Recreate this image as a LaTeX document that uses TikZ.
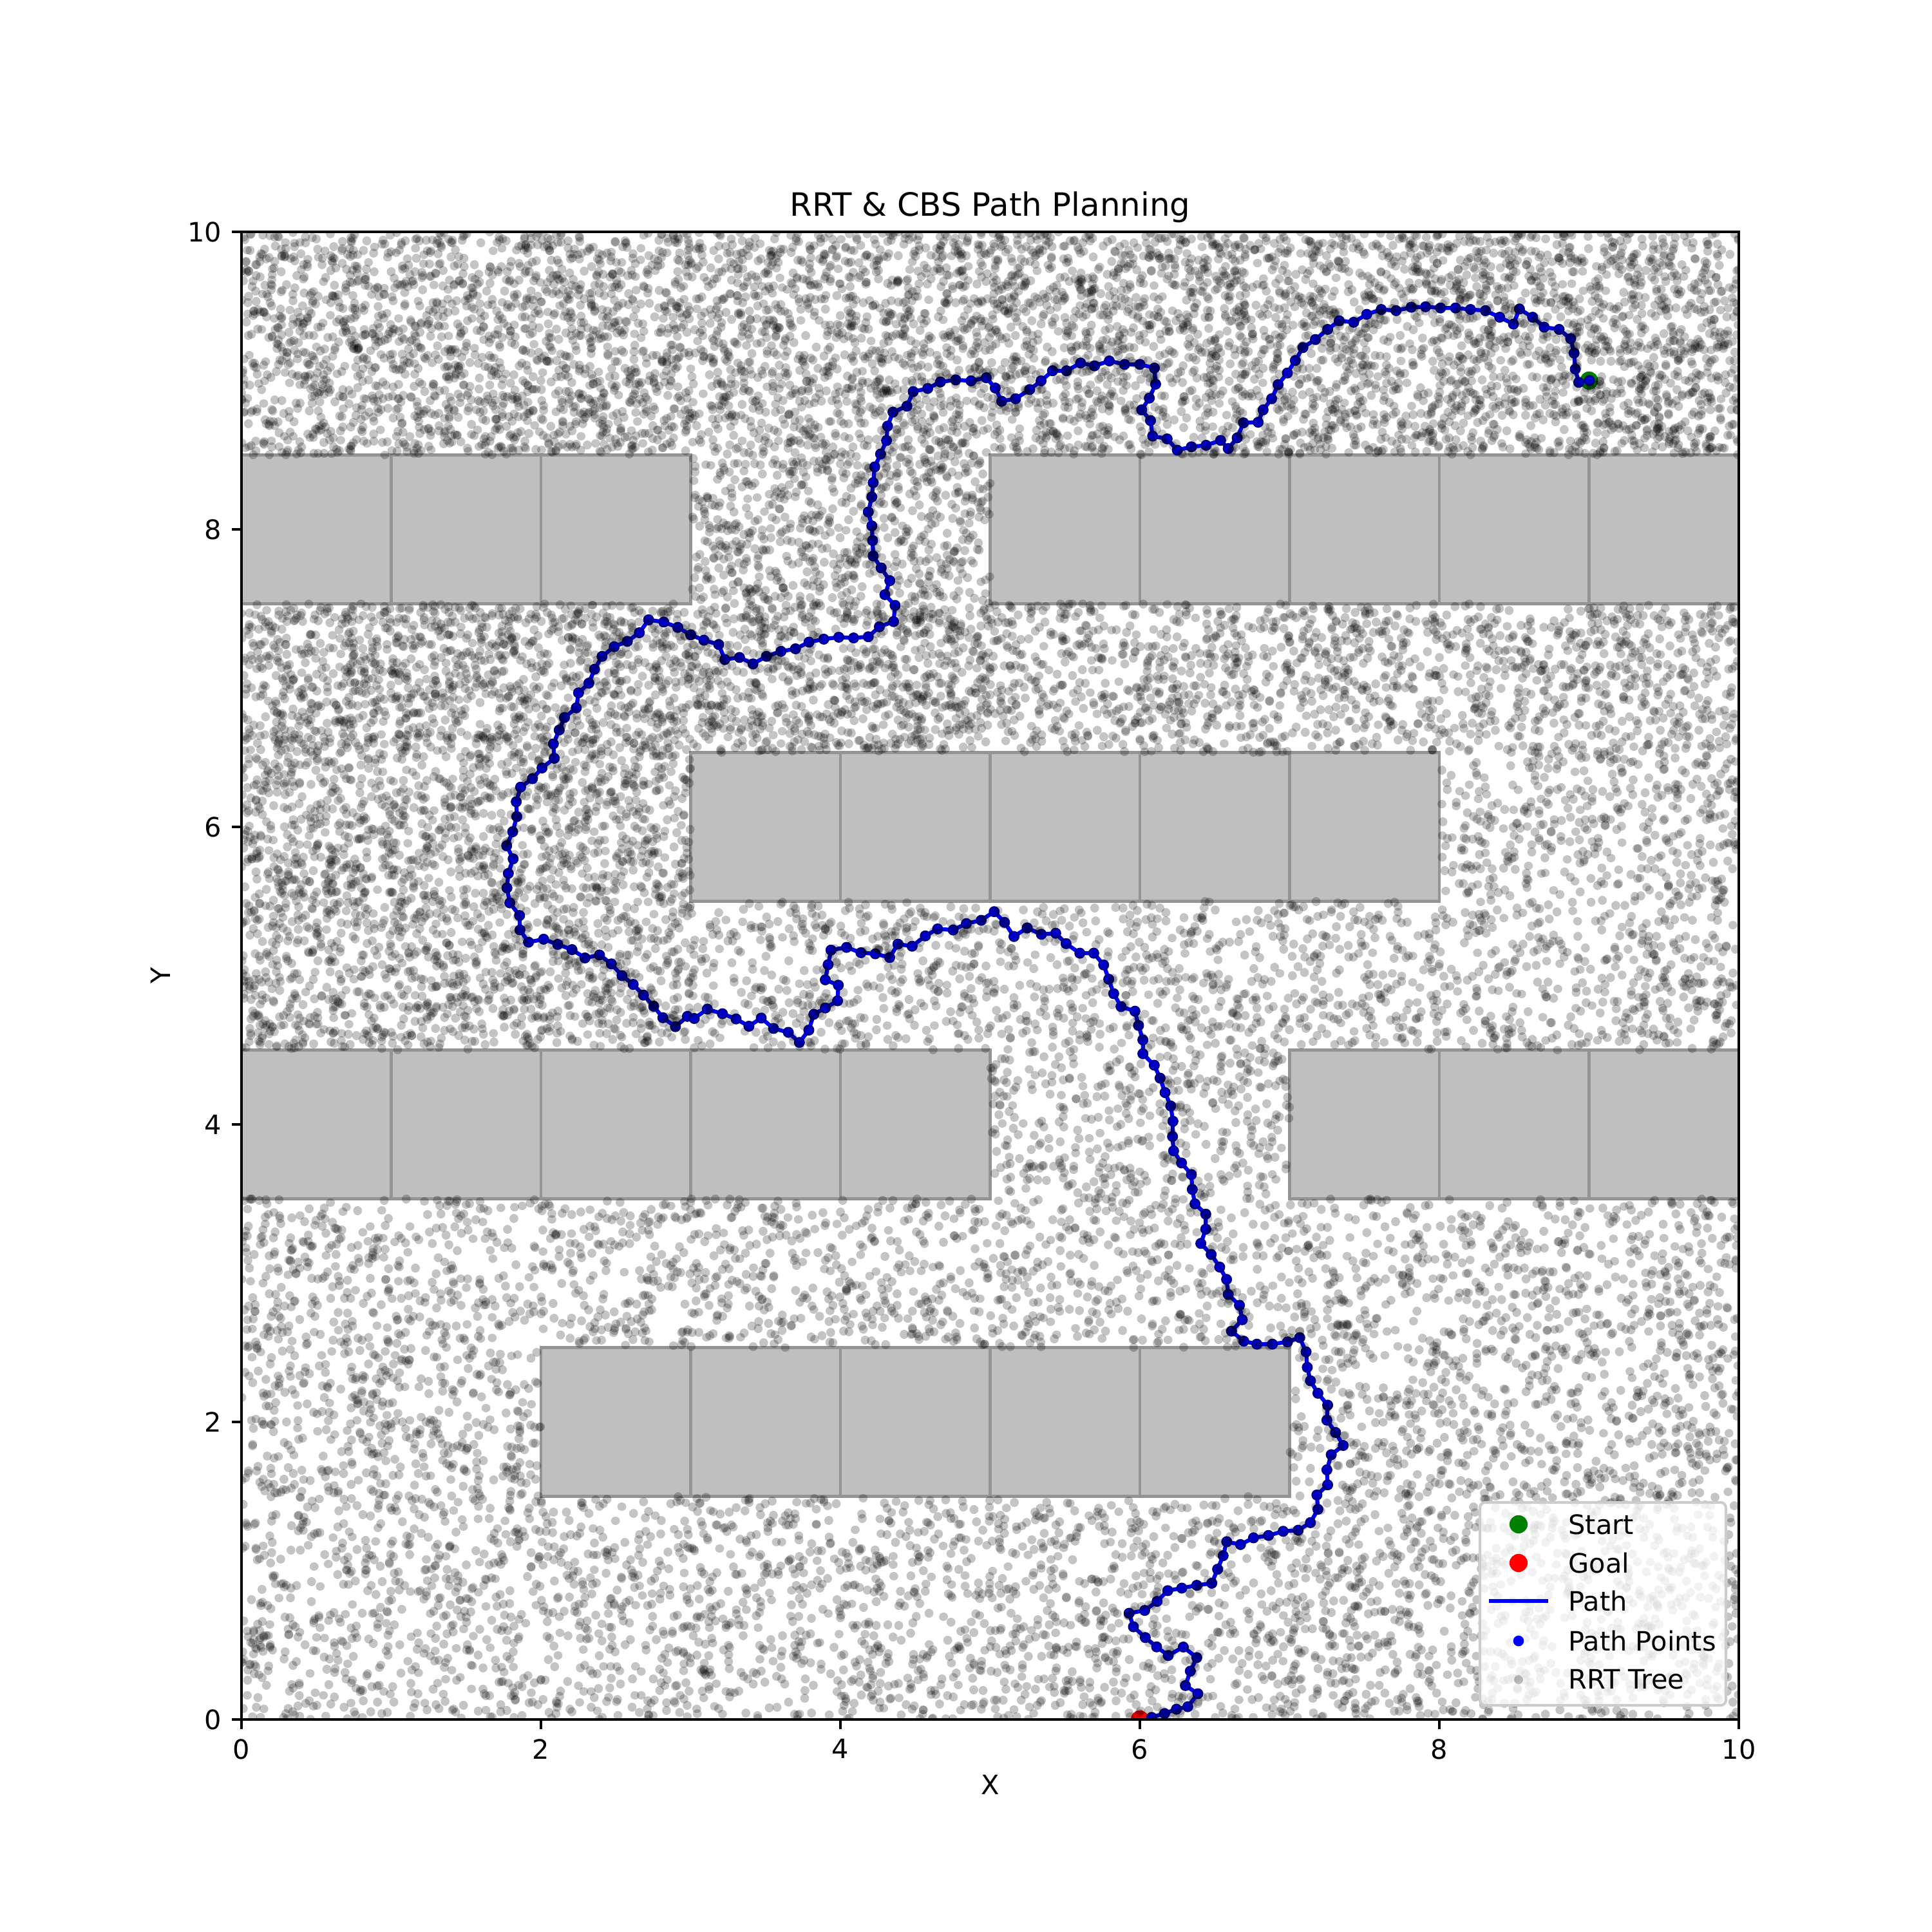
\documentclass[tikz,border=0pt]{standalone}
\usepackage{fontspec}
\setmainfont{DejaVu Sans}
\usetikzlibrary{positioning}
\definecolor{obstgray}{gray}{0.75}
\definecolor{obstedge}{gray}{0.58}
\definecolor{ptblue}{rgb}{0,0,0.78}
\definecolor{ptedge}{rgb}{0,0,0.5}
\definecolor{startgreen}{rgb}{0,0.5,0}
% random RRT samples: 1pt in \smpx/\smpy stands for one data unit
\newdimen\smpx \newdimen\smpy
\newif\ifblocked
\newcommand\checkblock{\blockedfalse
  \ifdim\smpy>7.5pt\relax\ifdim\smpy<8.5pt\relax
    \ifdim\smpx<3pt\relax\blockedtrue\fi \ifdim\smpx>5pt\relax\blockedtrue\fi\fi\fi
  \ifdim\smpy>5.5pt\relax\ifdim\smpy<6.5pt\relax
    \ifdim\smpx>3pt\relax\ifdim\smpx<8pt\relax\blockedtrue\fi\fi\fi\fi
  \ifdim\smpy>3.5pt\relax\ifdim\smpy<4.5pt\relax
    \ifdim\smpx<5pt\relax\blockedtrue\fi \ifdim\smpx>7pt\relax\blockedtrue\fi\fi\fi
  \ifdim\smpy>1.5pt\relax\ifdim\smpy<2.5pt\relax
    \ifdim\smpx>2pt\relax\ifdim\smpx<7pt\relax\blockedtrue\fi\fi\fi\fi}
\newcommand\treesamples[5]{% count (below 16000), x0, y0, width, height
  \foreach \i in {1,...,#1}{%
    \pgfmathparse{rnd}\smpx=\pgfmathresult pt\relax
    \pgfmathparse{rnd}\smpy=\pgfmathresult pt\relax
    \smpx=#4\smpx \advance\smpx by #2pt\relax
    \smpy=#5\smpy \advance\smpy by #3pt\relax
    \checkblock
    \ifblocked\else
      \pgfpathmoveto{\pgfqpoint{56.009\smpx}{55.648\smpy}}%
      \pgfpathlineto{\pgfqpoint{\dimexpr56.009\smpx+0.01pt\relax}{55.648\smpy}}%
      \pgfusepath{stroke}%
    \fi}}
\begin{document}
\begin{tikzpicture}[x=0.775in,y=0.77in,
  obst/.style={fill=obstgray,draw=obstedge,line width=1pt},
  treept/.style={draw=black,draw opacity=0.23,line width=3.3pt,line cap=round},
  pathline/.style={draw=blue,line width=1.5pt,line join=round},
  endpt/.style={circle,inner sep=0pt,minimum size=6.8pt},
  tick/.style={line width=0.8pt},
  ticklabel/.style={font=\fontsize{10}{12}\selectfont,inner sep=0pt},
  legendtext/.style={font=\fontsize{10}{12}\selectfont,inner sep=0pt}]
\useasboundingbox (-1.25in,-1.1in) rectangle (8.75in,8.9in);

% obstacles (unit cells)
\foreach \ox/\oy in {0/7.5,1/7.5,2/7.5,5/7.5,6/7.5,7/7.5,8/7.5,9/7.5,
                     3/5.5,4/5.5,5/5.5,6/5.5,7/5.5,
                     0/3.5,1/3.5,2/3.5,3/3.5,4/3.5,7/3.5,8/3.5,9/3.5,
                     2/1.5,3/1.5,4/1.5,5/1.5,6/1.5}
  \draw[obst] (\ox,\oy) rectangle ++(1,1);

\begin{scope}
\clip (0,0) rectangle (10,10);
\node[endpt,fill=startgreen] (start) at (9,9) {};
\node[endpt,fill=red] (goal) at (6,0) {};
% planned path
\draw[pathline] plot[mark=*,mark size=1.8pt,
    mark options={fill=ptblue,draw=ptedge,line width=0.5pt}] coordinates {
  (9.003,9.001) (8.931,8.988) (8.908,9.077) (8.900,9.185) (8.877,9.282) (8.800,9.344)
  (8.700,9.359) (8.623,9.426) (8.535,9.481) (8.495,9.380) (8.403,9.426) (8.308,9.470)
  (8.208,9.478) (8.108,9.488) (8.008,9.488) (7.908,9.496) (7.812,9.493) (7.711,9.470)
  (7.612,9.478) (7.515,9.445) (7.428,9.392) (7.331,9.402) (7.254,9.344) (7.172,9.276)
  (7.089,9.222) (7.038,9.135) (6.985,9.051) (6.923,8.973) (6.880,8.878) (6.823,8.803)
  (6.790,8.720) (6.692,8.716) (6.650,8.615) (6.590,8.543) (6.539,8.598) (6.442,8.565)
  (6.344,8.555) (6.250,8.532) (6.182,8.608) (6.085,8.627) (6.071,8.731) (6.012,8.803)
  (6.063,8.882) (6.105,8.976) (6.097,9.084) (6.000,9.109) (5.898,9.109) (5.796,9.132)
  (5.697,9.099) (5.604,9.118) (5.510,9.066) (5.417,9.066) (5.340,8.998) (5.264,8.940)
  (5.170,8.878) (5.077,8.861) (5.034,8.950) (4.974,9.019) (4.872,8.998) (4.770,9.005)
  (4.668,8.991) (4.583,8.947) (4.486,8.926) (4.444,8.828) (4.351,8.788) (4.315,8.694)
  (4.308,8.597) (4.268,8.506) (4.229,8.420) (4.219,8.314) (4.210,8.218) (4.186,8.117)
  (4.210,8.023) (4.215,7.925) (4.219,7.821) (4.272,7.741) (4.330,7.655) (4.297,7.561)
  (4.365,7.489) (4.355,7.380) (4.260,7.345) (4.186,7.278) (4.088,7.270) (3.989,7.275)
  (3.889,7.262) (3.790,7.242) (3.700,7.197) (3.603,7.180) (3.506,7.146) (3.416,7.096)
  (3.326,7.139) (3.228,7.125) (3.187,7.226) (3.088,7.255) (3.000,7.291) (2.914,7.341)
  (2.820,7.377) (2.719,7.392) (2.657,7.305) (2.577,7.247) (2.489,7.211) (2.408,7.146)
  (2.358,7.060) (2.320,6.966) (2.251,6.901) (2.236,6.800) (2.157,6.735) (2.122,6.651)
  (2.083,6.558) (2.089,6.461) (2.007,6.396) (1.943,6.324) (1.864,6.267) (1.835,6.169)
  (1.839,6.069) (1.811,5.967) (1.771,5.873) (1.814,5.785) (1.782,5.687) (1.773,5.590)
  (1.792,5.489) (1.857,5.404) (1.860,5.307) (1.917,5.225) (2.018,5.245) (2.112,5.210)
  (2.207,5.175) (2.294,5.119) (2.391,5.139) (2.470,5.079) (2.541,5.000) (2.616,4.941)
  (2.685,4.869) (2.753,4.794) (2.814,4.717) (2.898,4.657) (2.978,4.726) (3.024,4.712)
  (3.111,4.775) (3.212,4.744) (3.303,4.709) (3.389,4.660) (3.471,4.715) (3.553,4.645)
  (3.652,4.619) (3.726,4.551) (3.789,4.634) (3.822,4.740) (3.899,4.783) (3.981,4.831)
  (3.986,4.936) (3.899,4.972) (3.918,5.074) (3.937,5.172) (4.041,5.190) (4.137,5.154)
  (4.233,5.147) (4.329,5.122) (4.384,5.212) (4.479,5.198) (4.567,5.267) (4.649,5.314)
  (4.753,5.307) (4.841,5.350) (4.940,5.372) (5.027,5.430) (5.096,5.358) (5.159,5.263)
  (5.247,5.321) (5.342,5.278) (5.438,5.285) (5.507,5.215) (5.599,5.151) (5.692,5.151)
  (5.758,5.072) (5.792,4.976) (5.825,4.879) (5.874,4.792) (5.967,4.761) (5.991,4.665)
  (6.020,4.568) (6.020,4.475) (6.096,4.398) (6.135,4.311) (6.168,4.214) (6.206,4.124)
  (6.221,4.021) (6.218,3.919) (6.225,3.822) (6.278,3.741) (6.344,3.663) (6.350,3.563)
  (6.368,3.466) (6.440,3.397) (6.440,3.296) (6.407,3.200) (6.476,3.126) (6.533,3.041)
  (6.579,2.958) (6.590,2.857) (6.665,2.784) (6.684,2.687) (6.612,2.610) (6.694,2.543)
  (6.781,2.523) (6.885,2.523) (6.986,2.538) (7.067,2.567) (7.110,2.471) (7.118,2.367)
  (7.139,2.277) (7.189,2.193) (7.254,2.113) (7.249,2.012) (7.307,1.929) (7.358,1.842)
  (7.278,1.780) (7.249,1.678) (7.254,1.577) (7.182,1.509) (7.189,1.413) (7.139,1.323)
  (7.057,1.272) (6.957,1.265) (6.859,1.237) (6.759,1.221) (6.672,1.176) (6.580,1.195)
  (6.556,1.101) (6.519,1.010) (6.480,0.916) (6.380,0.902) (6.280,0.883) (6.186,0.866)
  (6.115,0.794) (6.032,0.733) (5.928,0.714) (5.957,0.623) (6.036,0.551) (6.112,0.488)
  (6.189,0.430) (6.290,0.487) (6.380,0.416) (6.337,0.325) (6.304,0.228) (6.387,0.173)
  (6.320,0.086) (6.244,0.069) (6.165,0.040) (6.079,0.014)};
% RRT tree samples, kept out of the obstacles
\pgfmathsetseed{4}
\begin{scope}[treept]
\treesamples{10500}{0}{0}{10}{10}
\treesamples{10500}{0}{0}{10}{10}
\treesamples{2800}{0}{8.5}{10}{1.5}
\treesamples{1400}{0}{4.5}{3}{3}
\treesamples{500}{3}{6.5}{2}{2}
\treesamples{800}{0}{6.5}{10}{1}
\end{scope}
\end{scope}

% axes frame, ticks and labels
\draw[tick] (0,0) rectangle (10,10);
\foreach \v in {0,2,...,10}{
  \draw[tick] (\v,0) -- ++(0,-3.5pt) node[ticklabel,below=3.5pt] (xt\v) {\v};
  \draw[tick] (0,\v) -- ++(-3.5pt,0) node[ticklabel,left=3.5pt] (yt\v) {\v};
}
\node[ticklabel] (xlab) at (5,-0.44) {X};
\node[ticklabel,rotate=90] (ylab) at (-0.542,5) {Y};
\node[font=\fontsize{12}{14}\selectfont,inner sep=0pt,anchor=base] (title)
  at ([yshift=6pt]5,10) {RRT \& CBS Path Planning};

% legend
\draw[fill=white,fill opacity=0.8,draw=black!20,line width=1pt,rounded corners=2pt]
  (8.271,0.095) rectangle (9.914,1.459);
\node[endpt,fill=startgreen] (lgstart) at (8.529,1.312) {};
\node[endpt,fill=red] (lggoal) at (8.529,1.052) {};
\coordinate (lgpath) at (8.529,0.797);
\draw[pathline] ([xshift=-11pt]lgpath) -- ([xshift=11pt]lgpath);
\node[circle,fill=blue,inner sep=0pt,minimum size=4pt] (lgpts) at (8.529,0.528) {};
\coordinate (lgtree) at (8.529,0.268);
\draw[treept] (lgtree) -- ++(0.01pt,0);
\node[legendtext,right=18.5pt of lgstart.center] (lgstarttxt) {Start};
\node[legendtext,right=18.5pt of lggoal.center] (lggoaltxt) {Goal};
\node[legendtext,right=18.5pt of lgpath] (lgpathtxt) {Path};
\node[legendtext,right=18.5pt of lgpts.center] (lgptstxt) {Path Points};
\node[legendtext,right=18.5pt of lgtree] (lgtreetxt) {RRT Tree};
\end{tikzpicture}
\end{document}
